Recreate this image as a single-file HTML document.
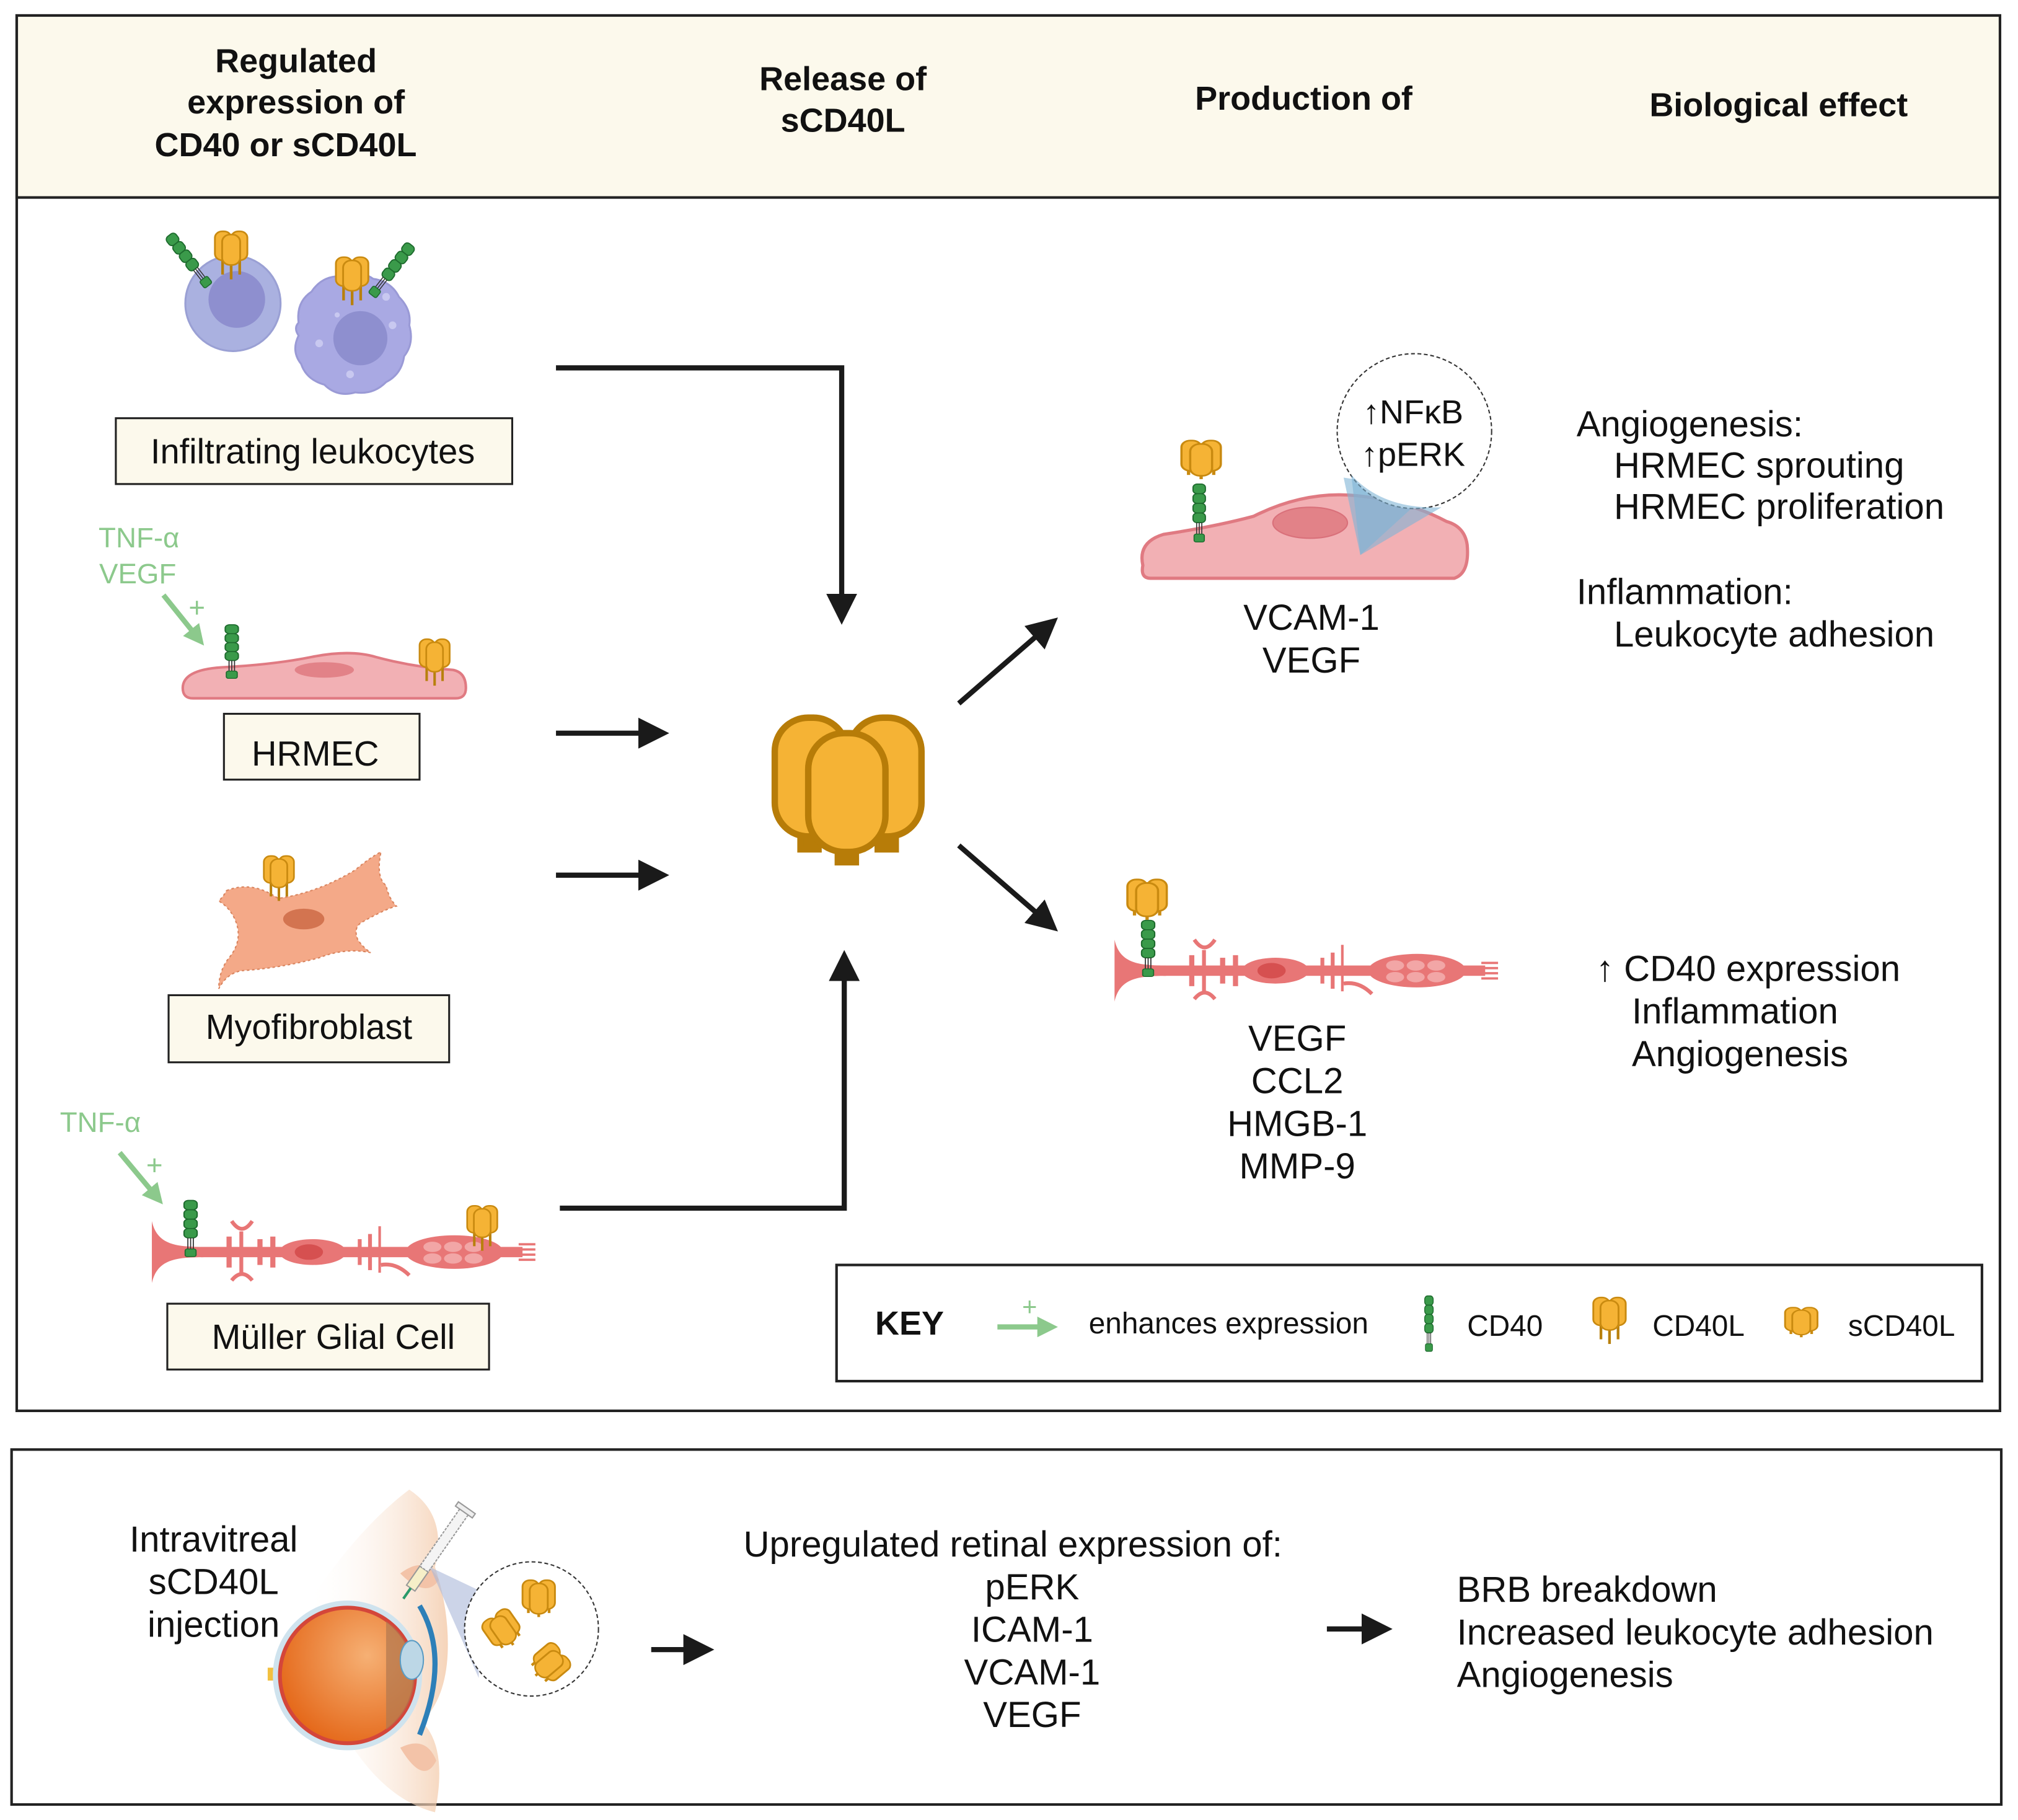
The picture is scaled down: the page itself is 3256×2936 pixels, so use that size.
<!DOCTYPE html>
<html><head><meta charset="utf-8"><style>
html,body{margin:0;padding:0;background:#fff;}
svg{display:block;}
text{font-family:"Liberation Sans",sans-serif;fill:#111;}
</style></head><body>
<svg width="3256" height="2936" viewBox="0 0 1568 1410" preserveAspectRatio="none" xmlns="http://www.w3.org/2000/svg">
<defs>
<g id="lobes">
<rect x="0" y="2" width="18" height="36" rx="8" fill="#f5b335" stroke="#c98a10" stroke-width="2"/>
<rect x="18" y="2" width="18" height="36" rx="8" fill="#f5b335" stroke="#c98a10" stroke-width="2"/>
<rect x="8" y="6" width="20" height="38" rx="9" fill="#f5b335" stroke="#c98a10" stroke-width="2"/>
</g>
<g id="scd">
<rect x="5" y="37" width="3" height="6" fill="#c98a10"/><rect x="28" y="37" width="3" height="6" fill="#c98a10"/><rect x="16.5" y="43" width="3" height="5" fill="#c98a10"/>
<use href="#lobes"/>
</g>
<g id="cdl">
<rect x="7" y="36" width="3" height="20" fill="#b8800d"/><rect x="26" y="36" width="3" height="20" fill="#b8800d"/><rect x="16.5" y="40" width="3" height="22" fill="#b8800d"/>
<use href="#lobes"/>
</g>
<g id="cd40">
<rect x="0" y="0" width="12" height="11" rx="4" fill="#3a9a4a" stroke="#1e6b2e" stroke-width="1.2"/>
<rect x="0" y="11" width="12" height="11" rx="4" fill="#3a9a4a" stroke="#1e6b2e" stroke-width="1.2"/>
<rect x="0" y="22" width="12" height="11" rx="4" fill="#3a9a4a" stroke="#1e6b2e" stroke-width="1.2"/>
<rect x="0" y="33" width="12" height="11" rx="4" fill="#3a9a4a" stroke="#1e6b2e" stroke-width="1.2"/>
<line x1="3.5" y1="44" x2="3.5" y2="58" stroke="#333" stroke-width="1"/><line x1="6" y1="44" x2="6" y2="58" stroke="#333" stroke-width="1"/><line x1="8.5" y1="44" x2="8.5" y2="58" stroke="#333" stroke-width="1"/>
<rect x="1" y="57" width="10" height="9" rx="2" fill="#3a9a4a" stroke="#1e6b2e" stroke-width="1"/>
</g>
<g id="muller">
<path d="M0,-24 C4,-6 18,-4 40,-4 L40,4 C18,4 4,6 0,24 Z" fill="#e87676"/>
<rect x="38" y="-4" width="250" height="8" fill="#e87676"/>
<ellipse cx="125" cy="0" rx="26" ry="10" fill="#e87676"/>
<ellipse cx="122" cy="0" rx="11" ry="6" fill="#d65050"/>
<ellipse cx="235" cy="0" rx="38" ry="13" fill="#e87676"/>
<ellipse cx="218" cy="-4" rx="7" ry="4" fill="#f2a6a6"/><ellipse cx="234" cy="-4" rx="7" ry="4" fill="#f2a6a6"/><ellipse cx="250" cy="-4" rx="7" ry="4" fill="#f2a6a6"/>
<ellipse cx="218" cy="5" rx="7" ry="4" fill="#f2a6a6"/><ellipse cx="234" cy="5" rx="7" ry="4" fill="#f2a6a6"/><ellipse cx="250" cy="5" rx="7" ry="4" fill="#f2a6a6"/>
<g fill="#e87676">
<rect x="58" y="-12" width="4" height="24"/><rect x="68" y="-16" width="3" height="32"/><rect x="82" y="-10" width="4" height="20"/><rect x="92" y="-12" width="4" height="24"/>
<path d="M62,-24 Q70,-12 78,-24" stroke="#e87676" stroke-width="3" fill="none"/>
<path d="M62,22 Q70,12 78,22" stroke="#e87676" stroke-width="3" fill="none"/>
<rect x="160" y="-10" width="3" height="20"/><rect x="168" y="-14" width="3" height="28"/><rect x="176" y="-20" width="2" height="36"/>
<path d="M178,10 Q190,8 200,18" stroke="#e87676" stroke-width="3" fill="none"/>
</g>
<g stroke="#e87676" stroke-width="1.8"><line x1="285" y1="-6" x2="298" y2="-6"/><line x1="285" y1="-2" x2="298" y2="-2"/><line x1="285" y1="2" x2="298" y2="2"/><line x1="285" y1="6" x2="298" y2="6"/></g>
</g>
<marker id="ah" markerWidth="6" markerHeight="6" refX="5" refY="3" orient="auto" markerUnits="strokeWidth"><path d="M0,0 L6,3 L0,6 Z" fill="#1a1a1a"/></marker>
<marker id="ag" markerWidth="4" markerHeight="4" refX="3" refY="2" orient="auto" markerUnits="strokeWidth"><path d="M0,0 L4,2 L0,4 Z" fill="#8cc98c"/></marker>
<radialGradient id="eyeg" cx="0.65" cy="0.35" r="0.7"><stop offset="0" stop-color="#f6b074"/><stop offset="1" stop-color="#e56a1c"/></radialGradient>
<linearGradient id="skin" x1="0" y1="0" x2="1" y2="0"><stop offset="0" stop-color="#fff" stop-opacity="0"/><stop offset="1" stop-color="#f3c9a8"/></linearGradient>
</defs>

<rect x="13" y="12" width="1541" height="1081" fill="#fff" stroke="#222" stroke-width="2"/>
<rect x="13" y="12" width="1541" height="141" fill="#fcf9ec" stroke="#222" stroke-width="2"/>
<g font-weight="bold" font-size="26" text-anchor="middle">
<text x="230" y="56">Regulated</text><text x="230" y="88">expression of</text><text x="222" y="121">CD40 or sCD40L</text>
<text x="655" y="70">Release of</text><text x="655" y="102">sCD40L</text>
<text x="1013" y="85">Production of</text>
<text x="1382" y="90">Biological effect</text>
</g>

<circle cx="181" cy="235" r="37" fill="#aab1e0" stroke="#9aa0d4" stroke-width="1.5"/>
<circle cx="184" cy="232" r="22" fill="#8e8fcf"/>
<path d="M232,250 q-2,-16 10,-24 q8,-12 22,-12 q14,-6 26,2 q14,2 20,14 q10,10 8,22 q4,14 -4,24 q-2,14 -14,20 q-10,10 -24,8 q-14,4 -24,-6 q-14,-4 -18,-16 q-8,-10 -2,-22 q-4,-6 0,-10z" fill="#a9a9e3" stroke="#9a9ad6" stroke-width="1.5"/>
<circle cx="280" cy="262" r="21" fill="#8e8fcf"/>
<g fill="#c8c8f0"><circle cx="248" cy="266" r="3"/><circle cx="262" cy="244" r="2"/><circle cx="305" cy="252" r="3"/><circle cx="300" cy="230" r="3"/><circle cx="272" cy="290" r="3"/></g>
<use href="#cdl" transform="translate(167,178) scale(0.7,0.62)"/>
<use href="#cd40" transform="translate(128,185) rotate(-38) scale(0.75,0.75)"/>
<use href="#cdl" transform="translate(261,198) scale(0.7,0.62)"/>
<use href="#cd40" transform="translate(316,187) rotate(38) scale(0.75,0.75)"/>

<rect x="90" y="324" width="308" height="51" fill="#fcf9ec" stroke="#222" stroke-width="1.5"/>
<text x="243" y="359" font-size="27" text-anchor="middle">Infiltrating leukocytes</text>

<text x="108" y="424" font-size="22" text-anchor="middle" style="fill:#8cc98c">TNF-α</text>
<text x="107" y="452" font-size="22" text-anchor="middle" style="fill:#8cc98c">VEGF</text>
<text x="153" y="478" font-size="22" text-anchor="middle" style="fill:#8cc98c">+</text>
<line x1="127" y1="461" x2="156" y2="497" stroke="#8cc98c" stroke-width="4" marker-end="url(#ag)"/>
<path d="M142,533 q0,-14 30,-16 q40,-2 70,-8 q30,-6 50,0 q30,8 60,10 q10,2 10,14 q0,8 -8,8 l-204,0 q-8,0 -8,-8z" fill="#f2b0b4" stroke="#e07a82" stroke-width="2"/>
<ellipse cx="252" cy="519" rx="23" ry="6" fill="#e28288"/>
<use href="#cd40" transform="translate(175,484) scale(0.85,0.63)"/>
<use href="#cdl" transform="translate(326,494) scale(0.65,0.6)"/>
<rect x="174" y="553" width="152" height="51" fill="#fcf9ec" stroke="#222" stroke-width="1.5"/>
<text x="245" y="593" font-size="27" text-anchor="middle">HRMEC</text>

<path d="M176,690 q20,-8 40,6 q30,-4 60,-22 q12,-10 20,-14 q-4,20 4,26 q2,10 8,16 q-8,2 -26,12 q-8,4 -4,14 q4,6 10,10 q-20,-4 -40,4 q-30,8 -60,10 q-12,2 -18,14 q0,-14 8,-24 q10,-12 6,-26 q-4,-12 -14,-18 q4,-4 6,-8z" fill="#f4a988" stroke="#d9845e" stroke-width="1" stroke-dasharray="2,2"/>
<ellipse cx="236" cy="712" rx="16" ry="8" fill="#d37450"/>
<use href="#cdl" transform="translate(205,662) scale(0.65,0.58)"/>
<rect x="131" y="771" width="218" height="52" fill="#fcf9ec" stroke="#222" stroke-width="1.5"/>
<text x="240" y="805" font-size="27" text-anchor="middle">Myofibroblast</text>

<text x="78" y="877" font-size="22" text-anchor="middle" style="fill:#8cc98c">TNF-α</text>
<text x="120" y="910" font-size="22" text-anchor="middle" style="fill:#8cc98c">+</text>
<line x1="93" y1="893" x2="124" y2="930" stroke="#8cc98c" stroke-width="4" marker-end="url(#ag)"/>
<use href="#muller" transform="translate(118,970)"/>
<use href="#cd40" transform="translate(143,930) scale(0.85,0.66)"/>
<use href="#cdl" transform="translate(363,933) scale(0.65,0.58)"/>
<rect x="130" y="1010" width="250" height="51" fill="#fcf9ec" stroke="#222" stroke-width="1.5"/>
<text x="259" y="1045" font-size="27" text-anchor="middle">Müller Glial Cell</text>

<g stroke="#1a1a1a" stroke-width="4" fill="none">
<polyline points="432,285 654,285 654,480" marker-end="url(#ah)"/>
<line x1="432" y1="568" x2="516" y2="568" marker-end="url(#ah)"/>
<line x1="432" y1="678" x2="516" y2="678" marker-end="url(#ah)"/>
<polyline points="435,936 656,936 656,740" marker-end="url(#ah)"/>
<line x1="745" y1="545" x2="819" y2="481" marker-end="url(#ah)"/>
<line x1="745" y1="655" x2="819" y2="719" marker-end="url(#ah)"/>
</g>

<g stroke="#b77c08" stroke-width="5" fill="#f5b335">
<rect x="622" y="640" width="14" height="18" fill="#b77c08"/><rect x="682" y="640" width="14" height="18" fill="#b77c08"/><rect x="651" y="650" width="14" height="18" fill="#b77c08"/>
<rect x="602" y="556" width="56" height="92" rx="26"/>
<rect x="660" y="556" width="56" height="92" rx="26"/>
<rect x="628" y="568" width="60" height="92" rx="28"/>
</g>

<path d="M888,438 q-4,-18 16,-24 q40,-6 70,-14 q40,-20 80,-16 q40,4 70,20 q14,4 16,18 q2,22 -10,26 l-236,0 q-8,0 -6,-10z" fill="#f2b0b4" stroke="#e07a82" stroke-width="2.5"/>
<ellipse cx="1018" cy="405" rx="29" ry="12" fill="#e28288" stroke="#d9707a" stroke-width="1"/>
<path d="M1044,370 L1057,430 L1112,380 Z" fill="#7fb4d6" opacity="0.6"/>
<circle cx="1099" cy="334" r="60" fill="#fff" stroke="#333" stroke-width="1" stroke-dasharray="3,2"/>
<path d="M1050,368 Q1075,395 1120,393 L1057,430 Z" fill="#7fb4d6" opacity="0.6"/>
<text x="1098" y="328" font-size="26" text-anchor="middle">↑NFκB</text>
<text x="1098" y="361" font-size="26" text-anchor="middle">↑pERK</text>
<use href="#cd40" transform="translate(927,375) scale(0.8,0.68)"/>
<use href="#scd" transform="translate(918,340) scale(0.85,0.65)"/>
<g font-size="28" text-anchor="middle"><text x="1019" y="488">VCAM-1</text><text x="1019" y="521">VEGF</text></g>

<use href="#muller" transform="translate(866,752)"/>
<use href="#cd40" transform="translate(887,713) scale(0.85,0.66)"/>
<use href="#scd" transform="translate(876,680) scale(0.85,0.68)"/>
<g font-size="28" text-anchor="middle"><text x="1008" y="814">VEGF</text><text x="1008" y="847">CCL2</text><text x="1008" y="880">HMGB-1</text><text x="1008" y="913">MMP-9</text></g>

<g font-size="28">
<text x="1225" y="338">Angiogenesis:</text><text x="1254" y="370">HRMEC sprouting</text><text x="1254" y="402">HRMEC proliferation</text>
<text x="1225" y="468">Inflammation:</text><text x="1254" y="501">Leukocyte adhesion</text>
<text x="1240" y="760">↑ CD40 expression</text><text x="1268" y="793">Inflammation</text><text x="1268" y="826">Angiogenesis</text>
</g>

<rect x="650" y="980" width="890" height="90" fill="#fff" stroke="#222" stroke-width="2"/>
<text x="680" y="1034" font-size="26" font-weight="bold">KEY</text>
<line x1="775" y1="1028" x2="818" y2="1028" stroke="#8cc98c" stroke-width="4" marker-end="url(#ag)"/>
<text x="800" y="1019" font-size="20" text-anchor="middle" style="fill:#8cc98c">+</text>
<text x="846" y="1033" font-size="23">enhances expression</text>
<use href="#cd40" transform="translate(1107,1004) scale(0.55,0.65)"/>
<text x="1140" y="1035" font-size="23">CD40</text>
<use href="#cdl" transform="translate(1238,1004) scale(0.7,0.6)"/>
<text x="1284" y="1035" font-size="23">CD40L</text>
<use href="#scd" transform="translate(1387,1012) scale(0.7,0.5)"/>
<text x="1436" y="1035" font-size="23">sCD40L</text>

<rect x="9" y="1123" width="1546" height="275" fill="#fff" stroke="#222" stroke-width="2"/>
<g font-size="28" text-anchor="middle"><text x="166" y="1202">Intravitreal</text><text x="166" y="1235">sCD40L</text><text x="166" y="1268">injection</text></g>
<g transform="translate(8,4)">
<path d="M230,1240 q40,-60 80,-90 q30,20 20,60 q10,30 10,60 q0,40 -20,60 q20,20 10,70 q-40,-10 -70,-60 z" fill="url(#skin)" opacity="0.8"/>
<rect x="200" y="1288" width="30" height="10" fill="#f2c040"/>
<circle cx="262" cy="1294" r="58" fill="#cfe3ee"/>
<circle cx="262" cy="1294" r="54" fill="#d4463a"/>
<circle cx="262" cy="1294" r="51" fill="url(#eyeg)"/>
<path d="M292,1252 a51,51 0 0 1 0,84 z" fill="#b07850" opacity="0.7"/>
<ellipse cx="312" cy="1282" rx="9" ry="15" fill="#bcd7e6" stroke="#5b9cc4" stroke-width="1"/>
<path d="M318,1240 q24,40 0,100" stroke="#2d7fb8" stroke-width="4" fill="none"/>
<path d="M303,1215 q20,20 30,5 q-10,-20 -30,-5z" fill="#f3c3a8"/>
<path d="M303,1350 q20,-10 28,10 q-10,20 -28,-10z" fill="#f3c3a8"/>
</g>
<g transform="translate(318,1232) rotate(35)">
<rect x="-4" y="-20" width="8" height="18" fill="#f6efc8" stroke="#999" stroke-width="1"/>
<rect x="-4" y="-75" width="8" height="55" fill="#f4f4f4" stroke="#999" stroke-width="1" stroke-dasharray="2,1"/>
<rect x="-8" y="-78" width="16" height="4" fill="#eee" stroke="#999" stroke-width="1"/>
<line x1="0" y1="-2" x2="0" y2="8" stroke="#2a9a6a" stroke-width="2"/>
</g>
<path d="M334,1214 L372,1232 L372,1300 Z" fill="#aab8d8" opacity="0.6"/>
<circle cx="413" cy="1262" r="52" fill="#fff" stroke="#333" stroke-width="1" stroke-dasharray="3,2"/>
<use href="#scd" transform="translate(406,1223) scale(0.7,0.62)"/>
<use href="#scd" transform="translate(372,1258) rotate(-35) scale(0.7,0.6)"/>
<use href="#scd" transform="translate(430,1270) rotate(50) scale(0.7,0.6)"/>

<g stroke="#1a1a1a" stroke-width="4" fill="none">
<line x1="506" y1="1278" x2="551" y2="1278" marker-end="url(#ah)"/>
<line x1="1031" y1="1262" x2="1078" y2="1262" marker-end="url(#ah)"/>
</g>
<g font-size="28" text-anchor="middle"><text x="787" y="1206">Upregulated retinal expression of:</text><text x="802" y="1239">pERK</text><text x="802" y="1272">ICAM-1</text><text x="802" y="1305">VCAM-1</text><text x="802" y="1338">VEGF</text></g>
<g font-size="28"><text x="1132" y="1241">BRB breakdown</text><text x="1132" y="1274">Increased leukocyte adhesion</text><text x="1132" y="1307">Angiogenesis</text></g>
</svg>
</body></html>
